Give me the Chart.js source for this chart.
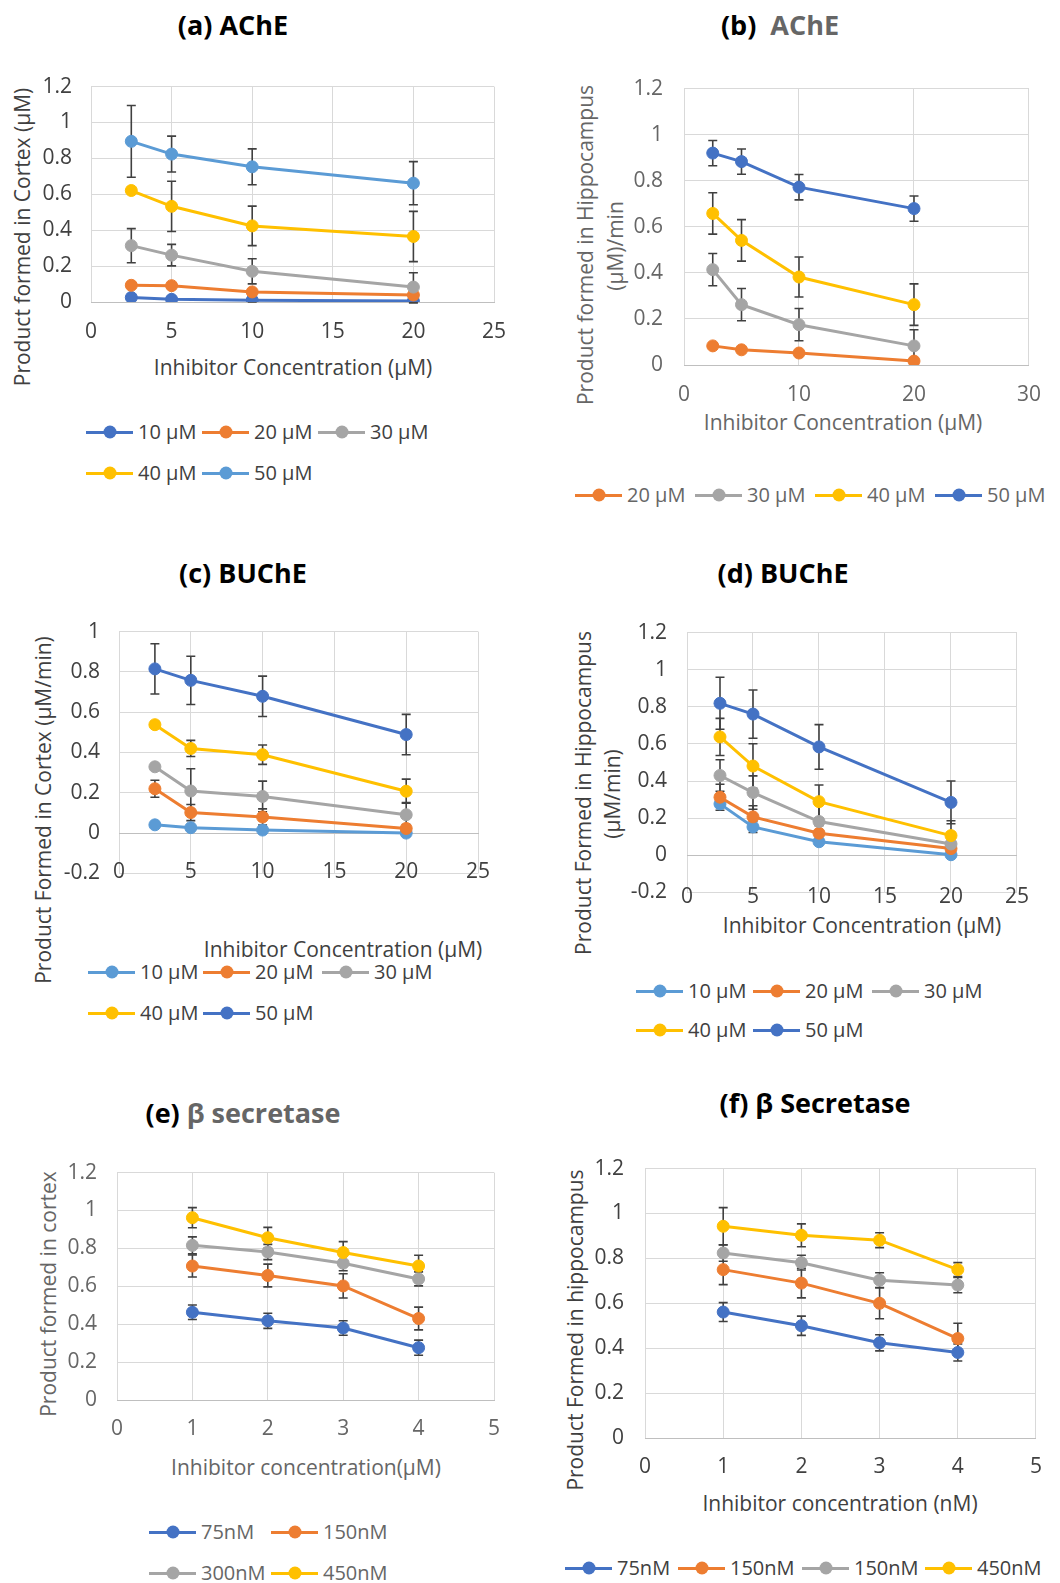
<!DOCTYPE html>
<html>
<head>
<meta charset="utf-8">
<script src="https://cdn.jsdelivr.net/npm/chart.js@4.4.1/dist/chart.umd.min.js"></script>
<style>
  body { margin: 0; background: #fff; }
  #fig { position: relative; width: 1060px; height: 1583px; overflow: hidden; background: #fff; font-family: "Open Sans", sans-serif; }
  canvas.panel { position: absolute; }
  .t { position: absolute; white-space: nowrap; transform: translate(-50%, -50%); font-size: 21px; line-height: 28px; }
  .rot { transform: translate(-50%, -50%) rotate(-90deg); }
  .title { font-weight: 700; font-size: 27px; color: #000; line-height: 34px; }
  .dark { color: #404040; }
  .gray { color: #666; }
  .leg { position: absolute; height: 28px; line-height: 28px; display: flex; align-items: center; font-size: 20px; white-space: nowrap; }
  .sw { position: relative; display: inline-block; width: 47px; height: 3px; margin-right: 5px; }
  .sw i { position: absolute; left: 50%; top: 50%; width: 13px; height: 13px; border-radius: 50%; transform: translate(-50%, -50%); }
</style>
</head>
<body>
<div id="fig">
  <!-- panel titles -->
  <div class="t title" style="left:233px;top:25px">(a) AChE</div>
  <div class="t title" style="left:780px;top:25px">(b)&nbsp; <span style="color:#666">AChE</span></div>
  <div class="t title" style="left:243px;top:573px">(c) BUChE</div>
  <div class="t title" style="left:783px;top:573px">(d) BUChE</div>
  <div class="t title" style="left:243px;top:1113px">(e) <span style="color:#666">β secretase</span></div>
  <div class="t title" style="left:815px;top:1103px">(f) β Secretase</div>

  <!-- axis titles -->
  <div class="t rot dark" style="left:22px;top:237px">Product formed in Cortex (μM)</div>
  <div class="t dark" style="left:293px;top:367px">Inhibitor Concentration (μM)</div>

  <div class="t rot gray" style="left:585px;top:245px">Product formed in Hippocampus</div>
  <div class="t rot gray" style="left:615px;top:246px">(μM)/min</div>
  <div class="t gray" style="left:843px;top:422px">Inhibitor Concentration (μM)</div>

  <div class="t rot dark" style="left:43px;top:810px">Product Formed in Cortex (μM/min)</div>
  <div class="t dark" style="left:343px;top:949px">Inhibitor Concentration (μM)</div>

  <div class="t rot dark" style="left:583px;top:793px">Product Formed in Hippocampus</div>
  <div class="t rot dark" style="left:612px;top:794px">(μM/min)</div>
  <div class="t dark" style="left:862px;top:925px">Inhibitor Concentration (μM)</div>

  <div class="t rot gray" style="left:48px;top:1294px">Product formed in cortex</div>
  <div class="t gray" style="left:306px;top:1467px">Inhibitor concentration(μM)</div>

  <div class="t rot dark" style="left:575px;top:1330px">Product Formed in hippocampus</div>
  <div class="t dark" style="left:840px;top:1503px">Inhibitor concentration (nM)</div>
</div>

<script>
// x positions (inhibitor concentration)
const xAChE = [2.5, 5, 10, 20];
const xSecretase = [1, 2, 3, 4];

// Excel office palette
const cBlue = '#4472C4', cOrange = '#ED7D31', cGray = '#A5A5A5', cYellow = '#FFC000', cLight = '#5B9BD5';

// (a) AChE - cortex
const aLabels = ['10 μM', '20 μM', '30 μM', '40 μM', '50 μM'];
const a10 = [0.025, 0.015, 0.010, 0.005];
const a20 = [0.093, 0.091, 0.056, 0.039];
const a30 = [0.314, 0.261, 0.171, 0.083];
const a40 = [0.621, 0.533, 0.424, 0.365];
const a50 = [0.895, 0.824, 0.753, 0.662];
const a10Err = [0.01, 0.01, 0.01, 0.01];
const a20Err = [0.015, 0.015, 0.015, 0.01];
const a30Err = [0.095, 0.06, 0.07, 0.08];
const a40Err = [0, 0.14, 0.11, 0.14];
const a50Err = [0.2, 0.1, 0.1, 0.12];

// (b) AChE - hippocampus
const bLabels = ['20 μM', '30 μM', '40 μM', '50 μM'];
const b20 = [0.083, 0.066, 0.052, 0.017];
const b30 = [0.414, 0.262, 0.175, 0.083];
const b40 = [0.658, 0.541, 0.382, 0.262];
const b50 = [0.920, 0.883, 0.772, 0.679];
const b20Err = [0.01, 0.01, 0.01, 0.01];
const b30Err = [0.07, 0.07, 0.07, 0.07];
const b40Err = [0.09, 0.09, 0.087, 0.09];
const b50Err = [0.055, 0.055, 0.055, 0.055];

// (c) BUChE - cortex
const cLabels = ['10 μM', '20 μM', '30 μM', '40 μM', '50 μM'];
const c10 = [0.041, 0.027, 0.015, 0.0];
const c20 = [0.220, 0.102, 0.080, 0.023];
const c30 = [0.329, 0.209, 0.182, 0.091];
const c40 = [0.538, 0.420, 0.389, 0.208];
const c50 = [0.815, 0.758, 0.679, 0.489];
const c10Err = [0.005, 0.005, 0.005, 0.015];
const c20Err = [0.042, 0.04, 0.04, 0.02];
const c30Err = [0.01, 0.11, 0.076, 0.06];
const c40Err = [0.015, 0.04, 0.048, 0.06];
const c50Err = [0.125, 0.12, 0.1, 0.1];

// (d) BUChE - hippocampus
const dLabels = ['10 μM', '20 μM', '30 μM', '40 μM', '50 μM'];
const d10 = [0.277, 0.153, 0.073, 0.003];
const d20 = [0.313, 0.207, 0.119, 0.036];
const d30 = [0.430, 0.338, 0.182, 0.061];
const d40 = [0.638, 0.481, 0.289, 0.106];
const d50 = [0.819, 0.761, 0.584, 0.285];
const d10Err = [0.01, 0.03, 0.01, 0.01];
const d20Err = [0.07, 0.06, 0.04, 0.03];
const d30Err = [0.085, 0.09, 0.095, 0.05];
const d40Err = [0.1, 0.12, 0.09, 0.08];
const d50Err = [0.14, 0.13, 0.12, 0.115];

// (e) beta secretase - cortex
const eLabels = ['75nM', '150nM', '300nM', '450nM'];
const e75 = [0.463, 0.418, 0.380, 0.276];
const e150 = [0.707, 0.657, 0.602, 0.430];
const e300 = [0.816, 0.781, 0.722, 0.639];
const e450 = [0.962, 0.856, 0.778, 0.707];
const e75Err = [0.038, 0.04, 0.038, 0.04];
const e150Err = [0.058, 0.06, 0.064, 0.06];
const e300Err = [0.045, 0.04, 0.04, 0.037];
const e450Err = [0.053, 0.055, 0.058, 0.057];

// (f) beta secretase - hippocampus
const fLabels = ['75nM', '150nM', '150nM', '450nM'];
const f75 = [0.561, 0.500, 0.424, 0.381];
const f150 = [0.750, 0.690, 0.600, 0.443];
const f150b = [0.824, 0.781, 0.703, 0.681];
const f450 = [0.943, 0.903, 0.881, 0.750];
const f75Err = [0.042, 0.043, 0.036, 0.038];
const f150Err = [0.067, 0.066, 0.069, 0.068];
const f150bErr = [0.037, 0.033, 0.033, 0.034];
const f450Err = [0.083, 0.051, 0.033, 0.031];

const gridColor = '#d9d9d9';
const axisColor = '#bfbfbf';
const fig = document.getElementById('fig');

Chart.defaults.font.family = '"Open Sans", sans-serif';

// Error bars drawn under the markers, through the chart's own scales
const errorBars = {
    id: 'errorBars',
    beforeDatasetsDraw(chart) {
        const { ctx } = chart;
        const x = chart.scales.x, y = chart.scales.y;
        ctx.save();
        ctx.strokeStyle = '#404040';
        ctx.lineWidth = 1.6;
        chart.data.datasets.forEach(ds => {
            (ds.errors || []).forEach((e, i) => {
                if (!e) return;
                const p = ds.data[i];
                const px = x.getPixelForValue(p.x);
                const top = y.getPixelForValue(p.y + e);
                const bot = y.getPixelForValue(p.y - e);
                ctx.beginPath();
                ctx.moveTo(px, top); ctx.lineTo(px, bot);
                ctx.moveTo(px - 4.5, top); ctx.lineTo(px + 4.5, top);
                ctx.moveTo(px - 4.5, bot); ctx.lineTo(px + 4.5, bot);
                ctx.stroke();
            });
        });
        ctx.restore();
    }
};

function fmt(v) { return String(Math.round(v * 10) / 10); }

function drawPanel(cfg) {
    const [bx0, by0, bx1, by1] = cfg.box;
    const [L, T, R, B] = cfg.plot;
    const cv = document.createElement('canvas');
    cv.className = 'panel';
    cv.width = bx1 - bx0;
    cv.height = by1 - by0;
    cv.style.left = bx0 + 'px';
    cv.style.top = by0 + 'px';
    fig.appendChild(cv);

    const tickFont = { size: 21 };
    const datasets = cfg.labels.map((lab, i) => ({
        label: lab,
        data: cfg.xs.map((x, j) => ({ x: x, y: cfg.values[i][j] })),
        errors: cfg.errors[i],
        borderColor: cfg.colors[i],
        backgroundColor: cfg.colors[i],
        pointBackgroundColor: cfg.colors[i],
        pointBorderColor: cfg.colors[i],
        borderWidth: 3,
        pointRadius: 6,
        pointBorderWidth: 1,
        tension: 0,
        order: -i
    }));

    new Chart(cv, {
        type: 'line',
        data: { datasets },
        plugins: [errorBars],
        options: {
            responsive: false,
            animation: false,
            devicePixelRatio: 1,
            layout: { padding: { left: 0, top: T - by0, right: bx1 - R, bottom: cfg.zeroAxis ? by1 - B : 0 } },
            plugins: { legend: { display: false }, tooltip: { enabled: false } },
            scales: {
                x: {
                    type: 'linear',
                    min: cfg.xMin, max: cfg.xMax,
                    position: cfg.zeroAxis ? { y: 0 } : 'bottom',
                    afterFit: s => { if (!cfg.zeroAxis) s.height = by1 - B; },
                    ticks: { stepSize: cfg.xStep, color: cfg.tickColor, font: tickFont, padding: cfg.xPad, maxRotation: 0, autoSkip: false, callback: v => String(v) },
                    grid: { color: gridColor, lineWidth: 1, drawTicks: false },
                    border: { color: axisColor, width: 1 }
                },
                y: {
                    type: 'linear',
                    min: cfg.yMin, max: cfg.yMax,
                    afterFit: s => { s.width = L - bx0; },
                    ticks: { stepSize: 0.2, color: cfg.tickColor, font: tickFont, padding: cfg.yPad, callback: fmt },
                    grid: { color: gridColor, lineWidth: 1, drawTicks: false },
                    border: { display: false }
                }
            }
        }
    });
}

function drawLegend(labels, colors, rows, textColor) {
    rows.forEach(row => row.items.forEach((k, n) => {
        const el = document.createElement('div');
        el.className = 'leg';
        el.style.left = row.xs[n] + 'px';
        el.style.top = (row.y - 14) + 'px';
        el.style.color = textColor;
        el.innerHTML = '<span class="sw" style="background:' + colors[k] + '"><i style="background:' + colors[k] + '"></i></span>' + labels[k];
        fig.appendChild(el);
    }));
}

// (a)
const aColors = [cBlue, cOrange, cGray, cYellow, cLight];
drawPanel({
    box: [40, 55, 525, 350], plot: [91, 75, 494, 302],
    xs: xAChE, labels: aLabels, colors: aColors,
    values: [a10, a20, a30, a40, a50], errors: [a10Err, a20Err, a30Err, a40Err, a50Err],
    xMin: 0, xMax: 25, xStep: 5, yMin: 0, yMax: 1.2,
    tickColor: '#404040', xPad: 17, yPad: 19
});
drawLegend(aLabels, aColors, [{ y: 432, xs: [86, 202, 318], items: [0, 1, 2] }, { y: 473, xs: [86, 202], items: [3, 4] }], '#404040');

// (b)
const bColors = [cOrange, cGray, cYellow, cBlue];
drawPanel({
    box: [630, 55, 1058, 410], plot: [684, 75, 1037, 365],
    xs: xAChE, labels: bLabels, colors: bColors,
    values: [b20, b30, b40, b50], errors: [b20Err, b30Err, b40Err, b50Err],
    xMin: 0, xMax: 30, xStep: 10, yMin: 0, yMax: 1.2,
    tickColor: '#666', xPad: 17, yPad: 21
});
drawLegend(bLabels, bColors, [{ y: 495, xs: [575, 695, 815, 935], items: [0, 1, 2, 3] }], '#666');

// (c)
const cColors = [cLight, cOrange, cGray, cYellow, cBlue];
drawPanel({
    box: [60, 600, 520, 905], plot: [119, 622, 478, 885], zeroAxis: true,
    xs: xAChE, labels: cLabels, colors: cColors,
    values: [c10, c20, c30, c40, c50], errors: [c10Err, c20Err, c30Err, c40Err, c50Err],
    xMin: 0, xMax: 25, xStep: 5, yMin: -0.2, yMax: 1,
    tickColor: '#404040', xPad: 26, yPad: 19
});
drawLegend(cLabels, cColors, [{ y: 972, xs: [88, 203, 322], items: [0, 1, 2] }, { y: 1013, xs: [88, 203], items: [3, 4] }], '#404040');

// (d)
const dColors = [cLight, cOrange, cGray, cYellow, cBlue];
drawPanel({
    box: [630, 600, 1058, 925], plot: [687, 623, 1037, 905], zeroAxis: true,
    xs: xAChE, labels: dLabels, colors: dColors,
    values: [d10, d20, d30, d40, d50], errors: [d10Err, d20Err, d30Err, d40Err, d50Err],
    xMin: 0, xMax: 25, xStep: 5, yMin: -0.2, yMax: 1.2,
    tickColor: '#404040', xPad: 29, yPad: 20
});
drawLegend(dLabels, dColors, [{ y: 991, xs: [636, 753, 872], items: [0, 1, 2] }, { y: 1030, xs: [636, 753], items: [3, 4] }], '#404040');

// (e)
const eColors = [cBlue, cOrange, cGray, cYellow];
drawPanel({
    box: [55, 1140, 525, 1445], plot: [117, 1161, 494, 1400],
    xs: xSecretase, labels: eLabels, colors: eColors,
    values: [e75, e150, e300, e450], errors: [e75Err, e150Err, e300Err, e450Err],
    xMin: 0, xMax: 5, xStep: 1, yMin: 0, yMax: 1.2,
    tickColor: '#666', xPad: 16, yPad: 20
});
drawLegend(eLabels, eColors, [{ y: 1532, xs: [149, 271], items: [0, 1] }, { y: 1573, xs: [149, 271], items: [2, 3] }], '#666');

// (f)
const fColors = [cBlue, cOrange, cGray, cYellow];
drawPanel({
    box: [590, 1135, 1058, 1485], plot: [645, 1158, 1037, 1438],
    xs: xSecretase, labels: fLabels, colors: fColors,
    values: [f75, f150, f150b, f450], errors: [f75Err, f150Err, f150bErr, f450Err],
    xMin: 0, xMax: 5, xStep: 1, yMin: 0, yMax: 1.2,
    tickColor: '#404040', xPad: 16, yPad: 21
});
drawLegend(fLabels, fColors, [{ y: 1568, xs: [565, 678, 802, 925], items: [0, 1, 2, 3] }], '#404040');
</script>
</body>
</html>
